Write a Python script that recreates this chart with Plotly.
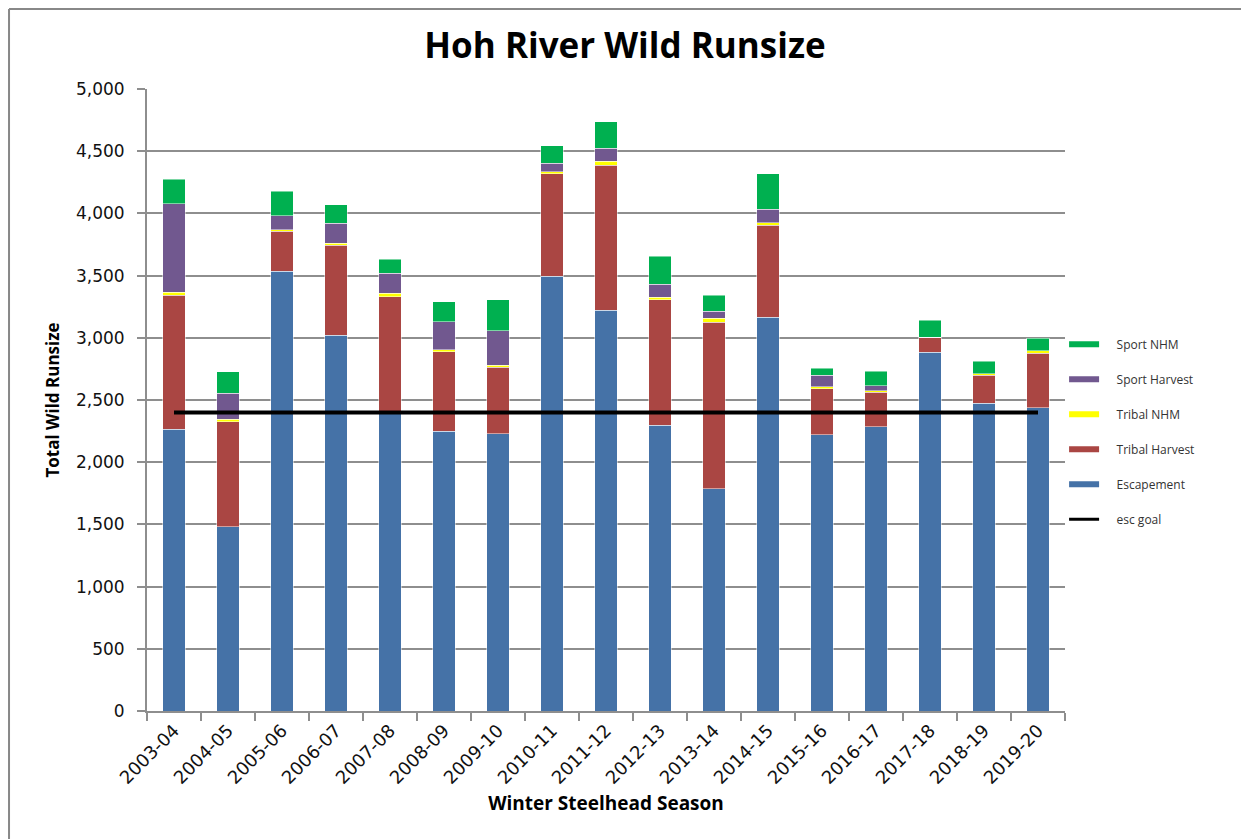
import plotly.graph_objects as go

seasons = ["2003-04", "2004-05", "2005-06", "2006-07", "2007-08", "2008-09", "2009-10",
           "2010-11", "2011-12", "2012-13", "2013-14", "2014-15", "2015-16", "2016-17",
           "2017-18", "2018-19", "2019-20"]
escapement     = [2265, 1480, 3537, 3020, 2390, 2250, 2230, 3494, 3221, 2296, 1785, 3167, 2219, 2283, 2883, 2473, 2436]
tribal_harvest = [1076,  846,  319,  726,  940,  638,  535,  825, 1165, 1008, 1342,  737,  372,  278,  123,  225,  439]
tribal_nhm     = [  25,   20,   12,   16,   27,   14,   14,   14,   32,   21,   32,   19,   14,   14,    0,   14,   19]
sport_harvest  = [ 710,  209,  114,  158,  161,  229,  276,   69,  105,  107,   54,  112,   93,   40,    0,    0,    0]
sport_nhm      = [ 200,  171,  198,  148,  113,  157,  249,  140,  214,  223,  128,  282,   57,  118,  137,  101,  104]
esc_goal       = [2400] * len(seasons)

series = [
    ("Escapement", escapement, "#4572A7"),
    ("Tribal Harvest", tribal_harvest, "#AA4643"),
    ("Tribal NHM", tribal_nhm, "#FFFF00"),
    ("Sport Harvest", sport_harvest, "#71588F"),
    ("Sport NHM", sport_nhm, "#00B050"),
]

fig = go.Figure()
for name, vals, col in series:
    fig.add_trace(go.Bar(x=seasons, y=vals, name=name, marker_color=col,
                         marker_line=dict(color="rgba(255,255,255,0.6)", width=0.8),
                         showlegend=False))

fig.add_trace(go.Scatter(x=seasons, y=esc_goal, mode="lines", name="esc goal",
                         line=dict(color="black", width=4), showlegend=False))

pad = "\u00a0" * 4
# legend entries (drawn as short wide bars like the original)
for i, (name, vals, col) in enumerate(reversed(series)):
    fig.add_trace(go.Scatter(x=[seasons[0]], y=[None], mode="lines", name=pad + name,
                             line=dict(color=col, width=6), legendgroup=f"g{i}"))
fig.add_trace(go.Scatter(x=[seasons[0]], y=[None], mode="lines", name=pad + "esc goal",
                         line=dict(color="black", width=3), legendgroup="g9"))

grid = "#8e8e8e"
fig.update_layout(
    width=1249, height=839,
    barmode="stack", bargap=0.59,
    plot_bgcolor="white", paper_bgcolor="white",
    margin=dict(l=139, r=192, t=81, b=136),
    title=dict(text="<b>Hoh River Wild Runsize</b>", x=0.494, xanchor="center",
               y=0.955, yanchor="middle",
               font=dict(family="Open Sans", size=35, color="black")),
    font=dict(family="DejaVu Sans", color="#222"),
    legend=dict(x=0.999, y=0.613, xanchor="left", yanchor="top",
                font=dict(size=12, color="#333", family="Open Sans"),
                tracegroupgap=16, bgcolor="rgba(0,0,0,0)"),
    xaxis=dict(type="category", tickangle=-45, tickson="boundaries",
               ticks="outside", ticklen=8, tickcolor=grid, tickwidth=2,
               showline=True, linecolor=grid, linewidth=2,
               tickfont=dict(size=18, color="#111"),
               title=dict(text="<b>Winter Steelhead Season</b>", standoff=10,
                          font=dict(family="Open Sans", size=19, color="black"))),
    yaxis=dict(range=[0, 5000], dtick=500, tickformat=",",
               showgrid=True, gridcolor=grid, gridwidth=2,
               ticks="outside", ticklen=8, tickcolor=grid, tickwidth=2,
               showline=True, linecolor=grid, linewidth=2,
               tickfont=dict(size=17, color="#111"),
               ticklabelstandoff=9,
               zeroline=False,
               title=dict(text="<b>Total Wild Runsize</b>", standoff=12,
                          font=dict(family="Open Sans", size=17, color="black"))),
    shapes=[
        dict(type="line", xref="paper", yref="paper", x0=-0.1503, x1=1.25, y0=1.1286, y1=1.1286,
             line=dict(color="#888", width=2)),
        dict(type="line", xref="paper", yref="paper", x0=-0.1503, x1=-0.1503, y0=1.1286, y1=-0.25,
             line=dict(color="#888", width=2)),
    ],
)

fig.write_html("out.html")
